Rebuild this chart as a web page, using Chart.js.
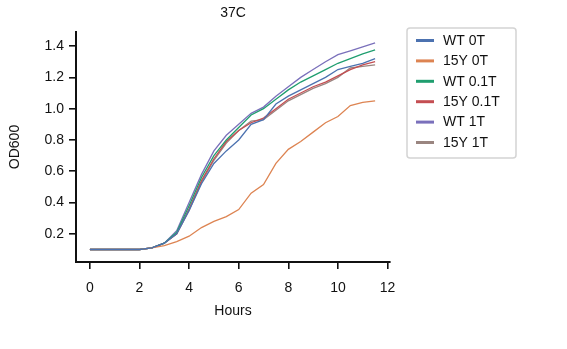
<!DOCTYPE html>
<html>
<head>
<meta charset="utf-8">
<script src="https://cdn.jsdelivr.net/npm/chart.js@4.4.1/dist/chart.umd.min.js"></script>
<style>
  html, body { margin: 0; padding: 0; background: #fff; }
  #wrap { width: 567px; height: 349px; }
</style>
</head>
<body>
<div id="wrap"><canvas id="growth"></canvas></div>
<script>
// time points (hours)
const hours = [0, 0.5, 1, 1.5, 2, 2.5, 3, 3.5, 4, 4.5, 5, 5.5, 6, 6.5, 7, 7.5, 8, 8.5, 9, 9.5, 10, 10.5, 11, 11.5];

// OD600 per strain / condition
const wt0T   = [0.10, 0.10, 0.10, 0.10, 0.10, 0.11, 0.14, 0.20, 0.35, 0.52, 0.65, 0.73, 0.80, 0.90, 0.93, 1.03, 1.08, 1.12, 1.16, 1.20, 1.25, 1.27, 1.29, 1.32];
const y15_0T = [0.10, 0.10, 0.10, 0.10, 0.10, 0.11, 0.125, 0.15, 0.185, 0.24, 0.28, 0.31, 0.355, 0.46, 0.515, 0.65, 0.74, 0.79, 0.85, 0.91, 0.95, 1.02, 1.04, 1.05];
const wt01T  = [0.10, 0.10, 0.10, 0.10, 0.10, 0.11, 0.14, 0.21, 0.38, 0.56, 0.70, 0.80, 0.88, 0.96, 1.00, 1.06, 1.12, 1.17, 1.21, 1.25, 1.29, 1.32, 1.35, 1.375];
const y15_01T = [0.10, 0.10, 0.10, 0.10, 0.10, 0.11, 0.14, 0.20, 0.36, 0.54, 0.68, 0.79, 0.86, 0.91, 0.94, 1.00, 1.06, 1.10, 1.14, 1.17, 1.21, 1.25, 1.28, 1.30];
const wt1T   = [0.10, 0.10, 0.10, 0.10, 0.10, 0.11, 0.14, 0.22, 0.40, 0.58, 0.73, 0.83, 0.90, 0.97, 1.01, 1.08, 1.14, 1.20, 1.25, 1.30, 1.345, 1.37, 1.395, 1.42];
const y15_1T = [0.10, 0.10, 0.10, 0.10, 0.10, 0.11, 0.14, 0.20, 0.35, 0.53, 0.67, 0.78, 0.86, 0.92, 0.93, 0.99, 1.05, 1.09, 1.13, 1.16, 1.20, 1.26, 1.27, 1.28];

const seriesNames = ['WT 0T', '15Y 0T', 'WT 0.1T', '15Y 0.1T', 'WT 1T', '15Y 1T'];
const seriesValues = [wt0T, y15_0T, wt01T, y15_01T, wt1T, y15_1T];
const colors = ['#4c72b0', '#dd8452', '#1f9e6f', '#c44e52', '#7a70bb', '#9a8580'];

const xTicks = [0, 2, 4, 6, 8, 10, 12];
const yTicks = [0.2, 0.4, 0.6, 0.8, 1.0, 1.2, 1.4];

const fontFamily = '"Liberation Sans", Arial, sans-serif';

// title over the plot and boxed legend on the right
const extras = {
  id: 'extras',
  afterDraw(chart) {
    const ctx = chart.ctx;
    const area = chart.chartArea;
    ctx.save();
    ctx.font = '14px ' + fontFamily;
    ctx.fillStyle = '#111';
    ctx.textAlign = 'center';
    ctx.textBaseline = 'middle';
    ctx.fillText('37C', (area.left + area.right) / 2, 13);

    const x0 = 407, y0 = 28, w = 109, h = 130;
    ctx.strokeStyle = '#d4d4d4';
    ctx.lineWidth = 1.5;
    ctx.beginPath();
    ctx.roundRect(x0, y0, w, h, 3);
    ctx.stroke();
    ctx.textAlign = 'left';
    chart.data.datasets.forEach((ds, i) => {
      const y = 40.5 + i * 20.4;
      ctx.strokeStyle = ds.borderColor;
      ctx.lineWidth = 3;
      ctx.beginPath();
      ctx.moveTo(416, y);
      ctx.lineTo(434, y);
      ctx.stroke();
      ctx.fillStyle = '#111';
      ctx.fillText(ds.label, 443, y + 0.5);
    });
    ctx.restore();
  }
};

new Chart(document.getElementById('growth'), {
  type: 'line',
  data: {
    labels: hours,
    datasets: seriesNames.map((name, i) => ({
      label: name,
      data: hours.map((h, j) => ({ x: h, y: seriesValues[i][j] })),
      borderColor: colors[i],
      backgroundColor: colors[i],
      borderWidth: 1.3,
      pointRadius: 0,
      tension: 0,
    })),
  },
  options: {
    responsive: true,
    maintainAspectRatio: false,
    animation: false,
    layout: { padding: { left: 0, right: 177, top: 32, bottom: 27 } },
    plugins: {
      legend: { display: false },
      tooltip: { enabled: false },
    },
    scales: {
      x: {
        type: 'linear',
        min: -0.56,
        max: 12.1,
        afterBuildTicks: (s) => { s.ticks = xTicks.map((v) => ({ value: v })); },
        afterFit: (s) => { s.height = 60; },
        grid: { drawOnChartArea: false, drawTicks: true, tickLength: 7, color: '#111', lineWidth: 1.6 },
        border: { display: true, color: '#111', width: 2 },
        ticks: { color: '#111', font: { family: fontFamily, size: 14 }, padding: 11, maxRotation: 0 },
        title: { display: true, text: 'Hours', color: '#111', font: { family: fontFamily, size: 14 }, padding: { top: 0, bottom: 2 } },
      },
      y: {
        type: 'linear',
        min: 0.02,
        max: 1.49,
        afterBuildTicks: (s) => { s.ticks = yTicks.map((v) => ({ value: v })); },
        afterFit: (s) => { s.width = 76; },
        grid: { drawOnChartArea: false, drawTicks: true, tickLength: 7, color: '#111', lineWidth: 1.6 },
        border: { display: true, color: '#111', width: 2 },
        ticks: { color: '#111', font: { family: fontFamily, size: 14 }, padding: 5, callback: (v) => v.toFixed(1) },
        title: { display: true, text: 'OD600', color: '#111', font: { family: fontFamily, size: 14 }, padding: { top: 7, bottom: 0 } },
      },
    },
  },
  plugins: [extras],
});
</script>
</body>
</html>
